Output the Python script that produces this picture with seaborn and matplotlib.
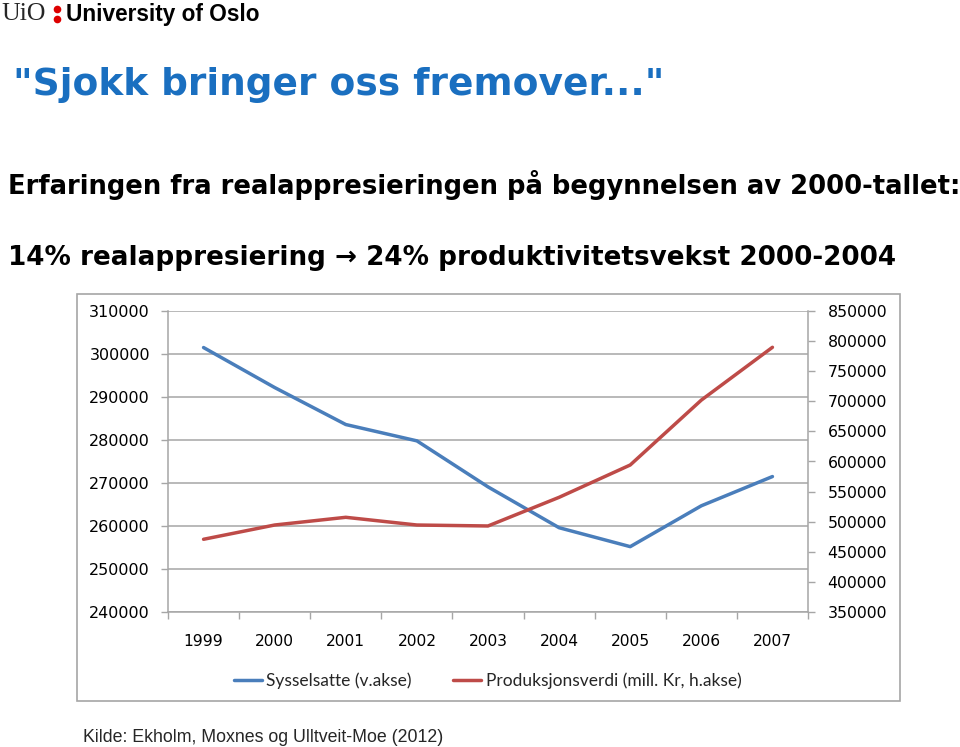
import matplotlib
matplotlib.use('Agg')
import matplotlib.pyplot as plt
import seaborn as sns
import pandas as pd
import numpy as np
from matplotlib.lines import Line2D
from matplotlib.patches import Rectangle

# ---- data ----
years = ['1999', '2000', '2001', '2002', '2003', '2004', '2005', '2006', '2007']
sysselsatte = [301500, 292200, 283600, 279800, 269100, 259600, 255200, 264700, 271500]
produksjonsverdi = [470800, 494500, 507300, 494500, 492900, 540500, 594200, 702000, 789700]
left_ticks = [240000, 250000, 260000, 270000, 280000, 290000, 300000, 310000]
right_ticks = [350000, 400000, 450000, 500000, 550000, 600000, 650000, 700000, 750000, 800000, 850000]
series_labels = ['Sysselsatte (v.akse)', 'Produksjonsverdi (mill. Kr, h.akse)']

title = '"Sjokk bringer oss fremover..."'
line1 = 'Erfaringen fra realappresieringen på begynnelsen av 2000-tallet:'
line2 = '14% realappresiering \u2192 24% produktivitetsvekst 2000-2004'
source = 'Kilde: Ekholm, Moxnes og Ulltveit-Moe (2012)'

sns.set_theme(style='white')
plt.rcParams['font.family'] = ['DejaVu Sans']

BLUE = '#4A7EBB'
RED = '#BE4B48'
GREY = '#A6A6A6'

W, H = 960, 747
fig = plt.figure(figsize=(W / 100, H / 100), dpi=100)
fig.patch.set_facecolor('white')

ax = fig.add_axes([168 / W, 1 - 612 / H, 640 / W, 301 / H])
ax2 = ax.twinx()

df = pd.DataFrame({'year': years, 'syss': sysselsatte, 'prod': produksjonsverdi})
sns.lineplot(data=df, x='year', y='syss', ax=ax, color=BLUE, lw=2.5, sort=False)
sns.lineplot(data=df, x='year', y='prod', ax=ax2, color=RED, lw=2.5, sort=False)

ax.set_xlim(-0.5, len(years) - 0.5)
ax.set_ylim(left_ticks[0], left_ticks[-1])
ax2.set_ylim(right_ticks[0], right_ticks[-1])
ax.set_yticks(left_ticks)
ax.set_yticklabels([str(v) for v in left_ticks])
ax2.set_yticks(right_ticks)
ax2.set_yticklabels([str(v) for v in right_ticks])
ax.set_xticks(range(len(years)))
ax.set_xticklabels(years)
ax.set_xticks(np.arange(-0.5, len(years), 1.0), minor=True)

ax.set_xlabel('')
ax.set_ylabel('')
ax2.set_ylabel('')

ax.yaxis.grid(True, color=GREY, lw=1.1)
ax.xaxis.grid(False)
ax.set_axisbelow(True)

for s in ['top', 'right']:
    ax.spines[s].set_visible(False)
for s in ['left', 'bottom']:
    ax.spines[s].set_color(GREY)
    ax.spines[s].set_linewidth(1.1)
for s in ['top', 'left', 'bottom']:
    ax2.spines[s].set_visible(False)
ax2.spines['right'].set_color(GREY)
ax2.spines['right'].set_linewidth(1.1)

ax.tick_params(axis='y', which='major', left=True, length=5, width=1, color=GREY,
               pad=8, labelsize=11.5, labelcolor='black')
ax2.tick_params(axis='y', which='major', right=True, length=5, width=1, color=GREY,
                pad=9, labelsize=11.3, labelcolor='black')
ax.tick_params(axis='x', which='major', bottom=True, length=0, pad=16,
               labelsize=11.2, labelcolor='black')
ax.tick_params(axis='x', which='minor', bottom=True, length=5, width=1, color=GREY)

# chart frame
fig.add_artist(Rectangle((77 / W, 1 - 701 / H), 823 / W, 407 / H, transform=fig.transFigure,
                         fill=False, edgecolor=GREY, lw=1.2))

# legend
handles = [Line2D([0], [0], color=BLUE, lw=2.5), Line2D([0], [0], color=RED, lw=2.5)]
fig.legend(handles, series_labels, loc='center', bbox_to_anchor=(0.508, 1 - 681 / H),
           ncol=2, frameon=False, handlelength=1.6, columnspacing=2.4,
           handletextpad=0.25, prop={'family': ['Liberation Sans Narrow', 'Lato'], 'size': 12.5})

# logo
fig.text(1 / W, 1 - 14 / H, 'UiO', family='Liberation Serif', fontsize=18.5, va='center', ha='left')
for yy in (8.5, 18.5):
    fig.add_artist(Line2D([57 / W], [1 - yy / H], marker='o', markersize=5.5, color='#DD0000',
                          markeredgewidth=0, transform=fig.transFigure))
fig.text(66 / W, 1 - 14 / H, 'University of Oslo', family='Liberation Sans', fontweight='bold',
         fontsize=16.3, va='center', ha='left', color='black')

# headings
fig.text(13 / W, 1 - 85 / H, title, color='#1A6FC0', fontweight='bold', fontsize=27,
         va='center', ha='left')
fig.text(8 / W, 1 - 185 / H, line1, color='black', fontweight='bold', fontsize=18.6,
         va='center', ha='left')
fig.text(8 / W, 1 - 258 / H, line2, color='black', fontweight='bold', fontsize=18.9,
         va='center', ha='left')

fig.text(83 / W, 1 - 737 / H, source, family='Liberation Sans', fontsize=12.8,
         va='center', ha='left')

fig.savefig('out.png', dpi=100, facecolor='white')
